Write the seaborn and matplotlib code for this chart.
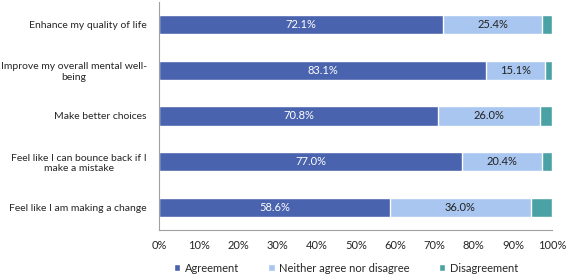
import numpy as np
import pandas as pd
import seaborn as sns
import matplotlib.pyplot as plt

# Datos
statements = [
    "Enhance my quality of life",
    "Improve my overall mental well-\nbeing",
    "Make better choices",
    "Feel like I can bounce back if I\nmake a mistake",
    "Feel like I am making a change",
]
agreement = [72.1, 83.1, 70.8, 77.0, 58.6]
neither = [25.4, 15.1, 26.0, 20.4, 36.0]
disagreement = [2.5, 1.8, 3.2, 2.6, 5.4]

series = ["Agreement", "Neither agree nor disagree", "Disagreement"]
colors = ["#4a63ae", "#a9c6f0", "#4aa2a5"]

df = pd.DataFrame({
    "statement": statements,
    "agreement": agreement,
    "neither": neither,
    "disagreement": disagreement,
})
df["cum_agree"] = df["agreement"]
df["cum_neither"] = df["agreement"] + df["neither"]
df["cum_total"] = df["cum_neither"] + df["disagreement"]

sns.set_style("white")
plt.rcParams["font.family"] = ["Lato", "DejaVu Sans"]

fig, ax = plt.subplots(figsize=(5.67, 2.78), dpi=100)
fig.subplots_adjust(left=0.281, right=0.974, top=0.993, bottom=0.173)

# barras apiladas: se dibuja de la suma total hacia atrás
sns.barplot(data=df, x="cum_total", y="statement", color=colors[2], width=0.42,
            orient="h", label=series[2], ax=ax, saturation=1)
sns.barplot(data=df, x="cum_neither", y="statement", color=colors[1], width=0.42,
            orient="h", label=series[1], ax=ax, saturation=1)
sns.barplot(data=df, x="cum_agree", y="statement", color=colors[0], width=0.42,
            orient="h", label=series[0], ax=ax, saturation=1)
if ax.get_legend() is not None:
    ax.get_legend().remove()

conts = ax.containers
ax.bar_label(conts[2], labels=[f"{v:.1f}%" for v in agreement], label_type="center",
             color="white", fontsize=8)
# etiqueta centrada en el segmento "neither"
for i, (a, n) in enumerate(zip(agreement, neither)):
    ax.text(a + n / 2, i, f"{n:.1f}%", ha="center", va="center", fontsize=8, color="#222222")

ax.set_xlim(0, 100)
ax.set_ylim(4.5, -0.5)
ax.set_xticks(np.arange(0, 101, 10))
ax.set_xticklabels([f"{t}%" for t in range(0, 101, 10)], fontsize=8)
ax.set_yticks(range(len(statements)))
ax.set_yticklabels(statements, fontsize=7.5, multialignment="center")
ax.set_yticks(np.arange(-0.5, 5, 1), minor=True)
ax.tick_params(axis="y", which="major", length=0, pad=9)
ax.tick_params(axis="y", which="minor", length=4, color="#a0a0a0", direction="out")
ax.tick_params(axis="x", length=4, color="#a0a0a0", direction="out", pad=3)
ax.set_xlabel("")
ax.set_ylabel("")

for s in ["top", "right"]:
    ax.spines[s].set_visible(False)
for s in ["left", "bottom"]:
    ax.spines[s].set_color("#a0a0a0")
    ax.spines[s].set_linewidth(0.8)

handles, labels = ax.get_legend_handles_labels()
order = [labels.index(s) for s in series]
fig.legend([handles[i] for i in order], series, loc="center",
           bbox_to_anchor=(0.61, 10 / 278), ncol=3, frameon=False, fontsize=8,
           handlelength=0.6, handleheight=0.6, handletextpad=0.4, columnspacing=2.6)

plt.savefig("out.png", dpi=100)
